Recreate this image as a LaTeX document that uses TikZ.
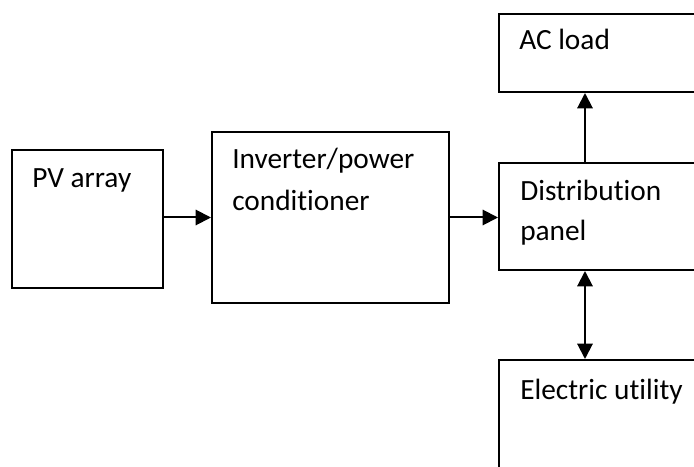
\documentclass[tikz,border=0pt]{standalone}
\usepackage{fontspec}
\setmainfont[Ligatures=NoCommon]{Carlito}
\usetikzlibrary{arrows.meta,calc}
\begin{document}
\begin{tikzpicture}[x=0.75pt,y=-0.75pt,
  box/.style={draw,line width=1.5pt,inner sep=0pt,anchor=north west},
  lbl/.style={anchor=base west,inner sep=0pt,font=\fontsize{22}{26}\selectfont},
  arr/.style={line width=1.5pt,-{Triangle[length=11.5pt,width=11.5pt]}},
  darr/.style={line width=1.5pt,{Triangle[length=11.5pt,width=11.5pt]}-{Triangle[length=11.5pt,width=11.5pt]}}]
\useasboundingbox (0,0) rectangle (694,467);
\clip (0,0) rectangle (694,467);
\node[box,minimum width={151*0.75pt},minimum height={138*0.75pt}] (pv) at (11,149) {};
\node[box,minimum width={237*0.75pt},minimum height={171*0.75pt}] (inv) at (211,131) {};
\node[box,minimum width={222*0.75pt},minimum height={107*0.75pt}] (dist) at (498,162) {};
\node[box,minimum width={222*0.75pt},minimum height={78*0.75pt}] (ac) at (498,13) {};
\node[box,minimum width={222*0.75pt},minimum height={131*0.75pt}] (util) at (498,359) {};
\node[lbl] (tpv) at (32,188) {PV array};
\node[lbl] (tinv1) at (232,169) {Inverter/power};
\node[lbl] (tinv2) at (232,210) {conditioner};
\node[lbl] (tdist1) at (520,200) {Distribution};
\node[lbl] (tdist2) at (520,241) {panel};
\node[lbl] (tac) at (519,50) {AC load};
\node[lbl] (tutil) at (520,399) {Electric utility};
\draw[arr] (inv.west -| pv.east) -- (inv.west);
\draw[arr] (inv.east) -- (inv.east -| dist.west);
\draw[arr] ($(dist.north west)+(87,0)$) -- ($(ac.south west)+(87,0)$);
\draw[darr] ($(dist.south west)+(87,0)$) -- ($(util.north west)+(87,0)$);
\end{tikzpicture}
\end{document}
